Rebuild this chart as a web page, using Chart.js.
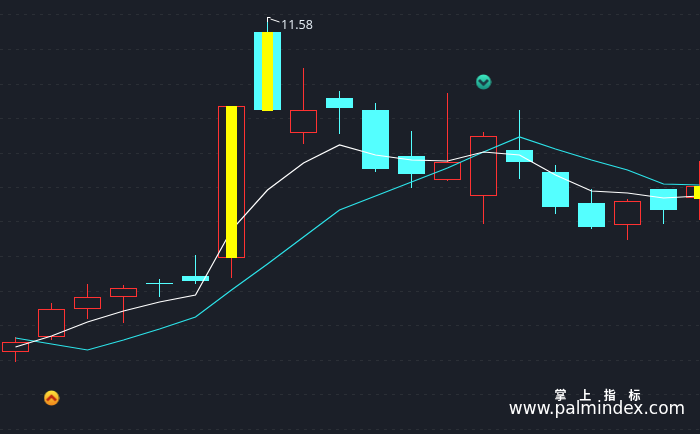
<!DOCTYPE html>
<html>
<head>
<meta charset="utf-8">
<script src="https://cdn.jsdelivr.net/npm/chart.js@4"></script>
<style>
html, body { margin: 0; padding: 0; background: #1b1f28; overflow: hidden; }
#wrap { width: 700px; height: 434px; }
</style>
</head>
<body>
<div id="wrap"><canvas id="chart" width="700" height="434"></canvas></div>
<script>
var opens  = [8.26, 8.41, 8.69, 8.81, 8.95, 9.02, 9.20, 11.46, 10.45, 10.80, 10.68, 10.22, 9.98, 9.82, 10.28, 10.06, 9.75, 9.53, 9.89, 9.80];
var closes = [8.36, 8.69, 8.81, 8.90, 8.94, 8.97, 10.72, 10.68, 10.68, 10.70, 10.09, 10.04, 10.16, 10.42, 10.16, 9.71, 9.51, 9.77, 9.68, 9.92];
var highs  = [8.41, 8.75, 8.94, 8.93, 8.99, 9.23, 10.72, 11.58, 11.10, 10.87, 10.75, 10.47, 10.85, 10.46, 10.68, 10.13, 9.89, 9.79, 9.89, 10.17];
var lows   = [8.16, 8.38, 8.59, 8.55, 8.81, 8.94, 9.00, 10.68, 10.34, 10.44, 10.06, 9.90, 9.97, 9.54, 9.99, 9.64, 9.49, 9.38, 9.54, 9.58];
var maWhite = [8.31, 8.42, 8.56, 8.67, 8.76, 8.83, 9.48, 9.88, 10.15, 10.33, 10.23, 10.18, 10.17, 10.26, 10.23, 10.03, 9.87, 9.85, 9.80, 9.82];
var maCyan  = [8.40, 8.34, 8.28, 8.38, 8.49, 8.61, 8.88, 9.14, 9.41, 9.68, 9.82, 9.96, 10.10, 10.26, 10.41, 10.29, 10.18, 10.08, 9.94, 9.93];
// yellow bars on the big days
var yellowBars = [null, null, null, null, null, null, [9.20, 10.72], [10.67, 11.46], null, null, null, null, null, null, null, null, null, null, null, [9.79, 9.92]];
var gridTicks = [11.63, 11.285, 10.94, 10.595, 10.25, 9.905, 9.56, 9.215, 8.87, 8.525, 8.18, 7.835, 7.49];
var peakLabel = "11.58";
var peakIndex = 7;
var upSignals = [{ x: 1, y: 7.80 }];
var downSignals = [{ x: 13, y: 10.96 }];
var brandName = "掌 上 指 标";
var brandUrl = "www.palmindex.com";

var RED = "#ff3232", CYAN = "#54ffff";

function candleColor(i) {
    return closes[i] > opens[i] ? RED : CYAN;
}

function makeBadge(top, bottom, arrow, up) {
    var c = document.createElement("canvas");
    c.width = 16; c.height = 16;
    var g = c.getContext("2d");
    var grad = g.createLinearGradient(0, 1, 0, 15);
    grad.addColorStop(0, top);
    grad.addColorStop(1, bottom);
    g.fillStyle = grad;
    g.beginPath();
    g.arc(8, 8, 7.5, 0, Math.PI * 2);
    g.fill();
    g.strokeStyle = arrow;
    g.lineWidth = 2.5;
    g.beginPath();
    if (up) { g.moveTo(3.5, 10.5); g.lineTo(8, 6); g.lineTo(12.5, 10.5); }
    else { g.moveTo(3.5, 6); g.lineTo(8, 10.5); g.lineTo(12.5, 6); }
    g.stroke();
    return c;
}

var wicks = [], boxes = [], whiteLine = [], cyanLine = [], yellow = [];
for (var i = 0; i < opens.length; i++) {
    wicks.push({ x: i, y: [lows[i], highs[i]] });
    boxes.push({ x: i, y: [opens[i], closes[i]] });
    whiteLine.push({ x: i, y: maWhite[i] });
    cyanLine.push({ x: i, y: maCyan[i] });
    if (yellowBars[i]) yellow.push({ x: i, y: yellowBars[i] });
}

// flag and price at the top of the highest candle, plus the watermark
var labelsPlugin = {
    id: "labels",
    afterDatasetsDraw: function(chart) {
        var ctx = chart.ctx;
        var px = chart.scales.x.getPixelForValue(peakIndex);
        var py = chart.scales.y.getPixelForValue(highs[peakIndex]);
        ctx.save();
        ctx.strokeStyle = "#ffffff";
        ctx.lineWidth = 1;
        ctx.beginPath();
        ctx.moveTo(px, py - 3);
        ctx.lineTo(px, py + 2);
        ctx.moveTo(px, py - 2.5);
        ctx.lineTo(px + 3, py - 2.5);
        ctx.moveTo(px + 3, py - 1);
        ctx.lineTo(px + 12, py + 2);
        ctx.stroke();
        ctx.fillStyle = "#e6eef5";
        ctx.font = "12.5px 'Open Sans', sans-serif";
        ctx.textBaseline = "middle";
        ctx.fillText(peakLabel, px + 13.5, py + 5);
        ctx.fillStyle = "#ffffff";
        ctx.textAlign = "center";
        ctx.font = "bold 12px 'Noto Sans CJK SC', sans-serif";
        ctx.letterSpacing = "5px";
        ctx.fillText(brandName, 600, 395);
        ctx.letterSpacing = "0px";
        ctx.font = "17px 'DejaVu Sans', sans-serif";
        ctx.fillText(brandUrl, 597, 410);
        ctx.restore();
    }
};

var chart = new Chart("chart", {
    type: "bar",
    plugins: [labelsPlugin],
    data: {
        datasets: [
            {
                label: "Wick",
                data: wicks,
                barThickness: 1,
                grouped: false,
                inflateAmount: 0,
                order: 6,
                borderWidth: 0,
                backgroundColor: function(c) { return candleColor(c.dataIndex); }
            },
            {
                label: "Candle",
                data: boxes,
                barThickness: 27,
                grouped: false,
                inflateAmount: 0,
                order: 5,
                borderSkipped: false,
                borderWidth: function(c) { return closes[c.dataIndex] > opens[c.dataIndex] ? 1 : 0; },
                borderColor: RED,
                backgroundColor: function(c) {
                    return closes[c.dataIndex] > opens[c.dataIndex] ? "#1b1f28" : CYAN;
                }
            },
            {
                type: "line",
                label: "MA long",
                data: cyanLine,
                borderColor: "#2de4ea",
                borderWidth: 1.2,
                pointRadius: 0,
                tension: 0,
                order: 4
            },
            {
                type: "line",
                label: "MA short",
                data: whiteLine,
                borderColor: "#ffffff",
                borderWidth: 1.2,
                pointRadius: 0,
                tension: 0,
                order: 3
            },
            {
                label: "Yellow",
                data: yellow,
                barThickness: 11,
                grouped: false,
                inflateAmount: 0,
                order: 2,
                borderWidth: 0,
                backgroundColor: "#ffff00"
            },
            {
                type: "scatter",
                label: "Buy",
                data: upSignals,
                pointStyle: makeBadge("#ffe23c", "#f08a1c", "#c02a10", true),
                order: 1
            },
            {
                type: "scatter",
                label: "Sell",
                data: downSignals,
                pointStyle: makeBadge("#3ce8c0", "#189080", "#1a3a44", false),
                order: 1
            }
        ]
    },
    options: {
        responsive: false,
        animation: false,
        layout: { padding: 0, autoPadding: false },
        plugins: { legend: { display: false }, tooltip: { enabled: false } },
        scales: {
            x: {
                type: "linear",
                display: false,
                offset: false,
                min: -15.5 / 36,
                max: 684.5 / 36,
                grid: { display: false }
            },
            y: {
                min: 7.44,
                max: 11.78,
                afterFit: function(axis) { axis.width = 0; },
                afterBuildTicks: function(axis) {
                    axis.ticks = gridTicks.map(function(v) { return { value: v }; });
                },
                ticks: { display: false },
                border: { display: false, dash: [3, 5] },
                grid: {
                    color: "#2b2f36",
                    lineWidth: 1,
                    drawTicks: false
                }
            }
        }
    }
});
</script>
</body>
</html>
